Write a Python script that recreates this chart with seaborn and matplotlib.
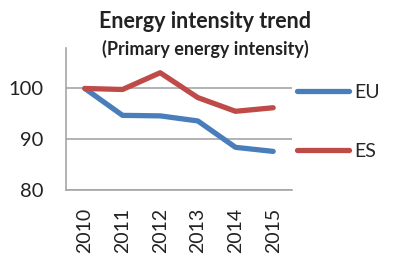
import pandas as pd
import seaborn as sns
import matplotlib.pyplot as plt

years = ["2010", "2011", "2012", "2013", "2014", "2015"]
eu = [100.0, 94.7, 94.6, 93.6, 88.4, 87.6]
es = [100.0, 99.8, 103.1, 98.2, 95.5, 96.2]

df = pd.DataFrame({
    "year": years * 2,
    "value": eu + es,
    "series": ["EU"] * len(years) + ["ES"] * len(years),
})

sns.set_style("white")
plt.rcParams["font.family"] = ["Lato", "DejaVu Sans"]

fig = plt.figure(figsize=(3.93, 2.56), dpi=100)
ax = fig.add_axes([0.168, 0.258, 0.575, 0.555])

sns.lineplot(data=df, x="year", y="value", hue="series",
             palette={"EU": "#4A7EBB", "ES": "#BE4B48"},
             linewidth=3.8, ax=ax, legend=False)

ax.set_xlim(-0.5, 5.5)
ax.set_ylim(80, 108)
ax.set_yticks([80, 90, 100])
ax.set_yticklabels(["80", "90", "100"])
ax.grid(axis="y", color="#A6A6A6", linewidth=1.2)
ax.set_axisbelow(True)
ax.set_xlabel("")
ax.set_ylabel("")

for s in ["top", "right"]:
    ax.spines[s].set_visible(False)
for s in ["left", "bottom"]:
    ax.spines[s].set_color("#A6A6A6")
    ax.spines[s].set_linewidth(1.2)

ax.set_xticks([i - 0.5 for i in range(7)], minor=True)
ax.tick_params(axis="x", which="minor", length=6, width=1.2, color="#A6A6A6", direction="out")
ax.tick_params(axis="x", which="major", length=0, pad=13, labelsize=14, labelrotation=90, colors="#222222")
ax.tick_params(axis="y", length=8, width=1.2, color="#A6A6A6", direction="out", pad=8,
               labelsize=14.5, labelcolor="#222222")

fig.text(0.522, 0.915, "Energy intensity trend", ha="center", va="center",
         fontsize=15.5, fontweight="bold", color="#222222")
fig.text(0.522, 0.81, "(Primary energy intensity)", ha="center", va="center",
         fontsize=13, fontweight="bold", color="#222222")

handles = [plt.Line2D([], [], color="#4A7EBB", linewidth=3.8, solid_capstyle="round"),
           plt.Line2D([], [], color="#BE4B48", linewidth=3.8, solid_capstyle="round")]
fig.legend(handles, ["EU", "ES"], loc="upper left", bbox_to_anchor=(0.755, 0.672),
           frameon=False, fontsize=14, handlelength=2.7, handletextpad=0.25,
           labelspacing=2.15, borderpad=0, borderaxespad=0)

fig.savefig("out.png", dpi=100)
